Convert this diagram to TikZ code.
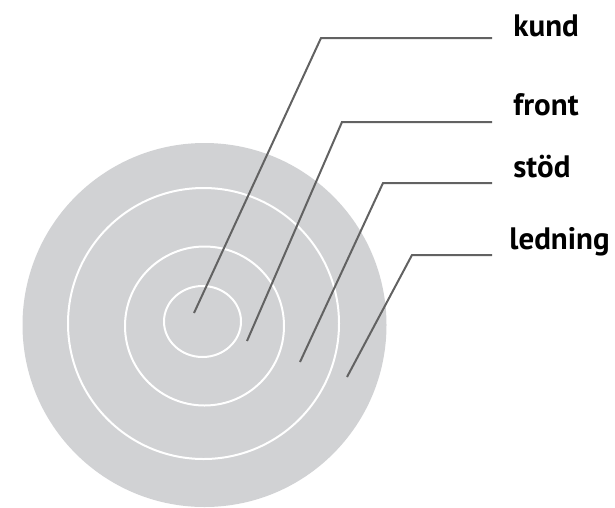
\documentclass[tikz,border=0pt]{standalone}
\usepackage{fontspec}
\setmainfont{PT Sans}
\definecolor{scheibe}{RGB}{209,210,212}
\definecolor{strich}{RGB}{98,98,98}
\begin{document}
\begin{tikzpicture}[x=1pt, y=-1pt, thick]
\tikzset{
  ring/.style={white, line width=2pt},
  zeiger/.style={strich, line width=2pt},
  etikett/.style={anchor=base west, inner sep=0pt, font=\fontsize{31}{31}\selectfont\bfseries}
}
\useasboundingbox (0,0) rectangle (615,507);
\def\ra{38.5}
\def\rb{79.5}
\def\rc{135.5}
\def\rd{182}
\coordinate (M0) at (202.5,321.5);
\coordinate (M1) at (204.5,326);
\coordinate (M2) at (203.5,323.5);
\coordinate (M3) at (204.5,325);
% Endpunkte in den Ringen, Knick, Ende der Linie
\coordinate (Ka) at (194,313);
\coordinate (Kb) at (321,38);
\coordinate (Kc) at (492,38);
\coordinate (Fa) at (247,341);
\coordinate (Fb) at (342,122);
\coordinate (Fc) at (492,122);
\coordinate (Sa) at (300,362);
\coordinate (Sb) at (383,183);
\coordinate (Sc) at (492,183);
\coordinate (La) at (347,377);
\coordinate (Lb) at (412,255);
\coordinate (Lc) at (492,255);
\fill[scheibe] (M3) circle (\rd);
\draw[ring] (M2) circle (\rc);
\draw[ring] (M1) circle (\rb);
\draw[ring] (M0) ellipse ({\ra} and 35.5);
\draw[zeiger] (Ka) -- (Kb) -- (Kc);
\draw[zeiger] (Fa) -- (Fb) -- (Fc);
\draw[zeiger] (Sa) -- (Sb) -- (Sc);
\draw[zeiger] (La) -- (Lb) -- (Lc);
\node[etikett] (kund)    at (513,36)  {kund};
\node[etikett] (front)   at (513,115) {front};
\node[etikett] (stod)    at (513,177) {stöd};
\node[etikett] (ledning) at (509,249) {ledning};
\end{tikzpicture}
\end{document}
